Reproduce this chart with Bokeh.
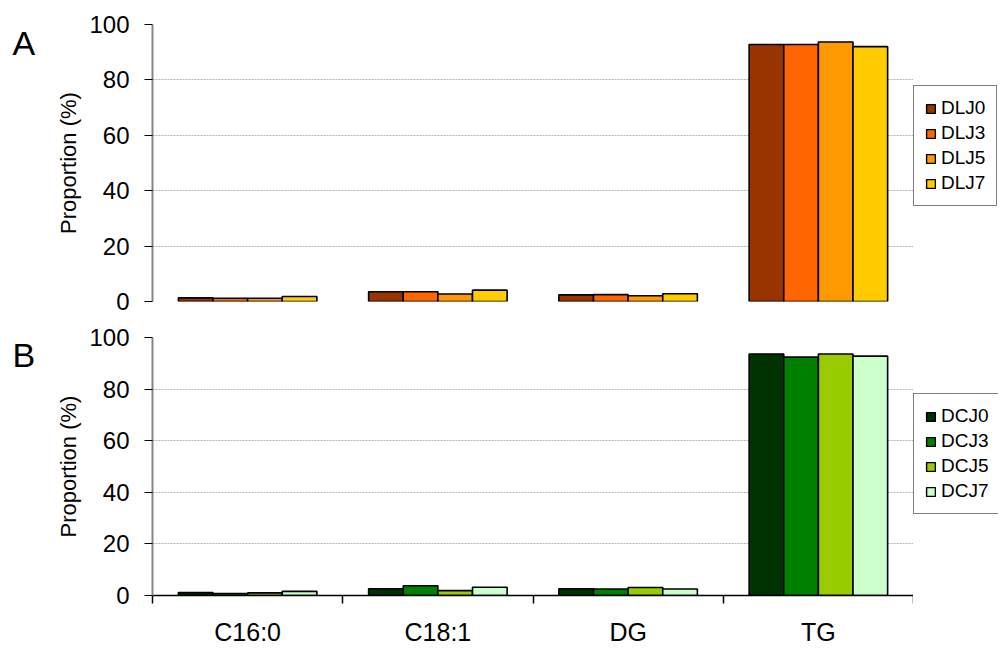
from bokeh.plotting import figure
from bokeh.layouts import column, row
from bokeh.models import (ColumnDataSource, Range1d, FixedTicker, Legend, LegendItem)
from bokeh.transform import dodge
from bokeh.core.properties import value
from bokeh.embed import file_html
from bokeh.resources import INLINE

# ---------------- data ----------------
categories = ["C16:0", "C18:1", "DG", "TG"]

series_a = ["DLJ0", "DLJ3", "DLJ5", "DLJ7"]
dlj0 = [1.3, 3.5, 2.4, 92.8]
dlj3 = [1.2, 3.5, 2.5, 92.8]
dlj5 = [1.2, 2.7, 2.1, 93.7]
dlj7 = [1.8, 4.1, 2.8, 92.0]

series_b = ["DCJ0", "DCJ3", "DCJ5", "DCJ7"]
dcj0 = [1.1, 2.6, 2.6, 93.6]
dcj3 = [0.8, 3.8, 2.5, 92.4]
dcj5 = [1.0, 1.9, 3.1, 93.6]
dcj7 = [1.6, 3.2, 2.5, 92.8]

y_ticks = [0, 20, 40, 60, 80, 100]
panel_letters = ["A", "B"]

colors_a = ["#993300", "#FF6600", "#FF9900", "#FFCC00"]
colors_b = ["#003300", "#008000", "#99CC00", "#CCFFCC"]

FONT = "Liberation Sans"
BAR_W = 0.182
offsets = [-1.5 * BAR_W, -0.5 * BAR_W, 0.5 * BAR_W, 1.5 * BAR_W]
centers = [i + 0.5 for i in range(len(categories))]

LETTER_W = 40
LEGEND_W = 85
MAIN_W = 873


def make_source(names, values):
    return ColumnDataSource(dict(x=centers, **{n: v for n, v in zip(names, values)}))


def make_panel(src, names, colors, height, border_top, border_bottom, show_xaxis):
    p = figure(width=MAIN_W, height=height, x_range=Range1d(0, 4),
               y_range=Range1d(0, 100),
               output_backend="svg", toolbar_location=None,
               min_border_left=152 - LETTER_W, min_border_right=0,
               min_border_top=border_top, min_border_bottom=border_bottom,
               x_axis_location="below" if show_xaxis else None)
    p.outline_line_color = None
    p.background_fill_color = "white"
    p.border_fill_color = "white"

    for n, c, off in zip(names, colors, offsets):
        p.vbar(x=dodge("x", off, range=p.x_range), top=n, width=BAR_W, bottom=0,
               source=src, fill_color=c, line_color="black", line_width=1.6)

    ya = p.yaxis[0]
    ya.ticker = FixedTicker(ticks=y_ticks)
    ya.axis_line_color = "#868686"
    ya.axis_line_width = 2
    ya.major_tick_line_color = "black"
    ya.major_tick_out = 8
    ya.major_tick_in = 0
    ya.minor_tick_line_color = None
    ya.major_label_standoff = 15
    ya.major_label_text_font = FONT
    ya.major_label_text_font_size = "24px"
    ya.major_label_text_color = "black"
    ya.axis_label = "Proportion (%)"
    ya.axis_label_text_font = FONT
    ya.axis_label_text_font_size = "22px"
    ya.axis_label_text_font_style = "normal"
    ya.axis_label_text_color = "black"
    ya.axis_label_standoff = 5

    p.xgrid.visible = False
    p.ygrid.ticker = FixedTicker(ticks=y_ticks)
    p.ygrid.grid_line_color = "#b4b4b4"
    p.ygrid.grid_line_dash = "2 1"
    p.ygrid.grid_line_width = 1

    if show_xaxis:
        xa = p.xaxis[0]
        xa.ticker = FixedTicker(ticks=centers, minor_ticks=[0, 1, 2, 3, 4])
        xa.major_label_overrides = {c: t for c, t in zip(centers, categories)}
        xa.axis_line_color = "black"
        xa.axis_line_width = 1.5
        xa.major_tick_out = 0
        xa.major_tick_in = 0
        xa.major_tick_line_color = None
        xa.minor_tick_out = 8
        xa.minor_tick_in = 0
        xa.minor_tick_line_color = "black"
        xa.minor_tick_line_width = 1.5
        xa.major_label_standoff = 14
        xa.major_label_text_font = FONT
        xa.major_label_text_font_size = "25px"
        xa.major_label_text_color = "black"
    return p


def make_legend(src, names, colors, height, legend_bottom):
    # a frame-only figure that holds just the legend; its bars are zero-sized
    lg = figure(width=LEGEND_W, height=height, x_range=Range1d(0, 4),
                y_range=Range1d(1000, 1100),
                output_backend="svg", toolbar_location=None, min_border=0,
                x_axis_location=None, y_axis_location=None)
    lg.outline_line_color = None
    lg.grid.visible = False
    items = []
    for n, c, off in zip(names, colors, offsets):
        r = lg.vbar(x=dodge("x", off, range=lg.x_range), top=n, bottom=n, width=0,
                    source=src, fill_color=c, line_color="black", line_width=1.4)
        items.append(LegendItem(label=n, renderers=[r]))
    legend = Legend(items=items, location=(0, legend_bottom),
                    border_line_color="black", border_line_width=1,
                    background_fill_color="white", background_fill_alpha=1,
                    padding=11, spacing=3, label_height=20, glyph_height=11,
                    glyph_width=11, label_standoff=5, margin=0,
                    label_text_font=FONT, label_text_font_size="19px",
                    label_text_color="black")
    lg.add_layout(legend, "center")
    return lg


src_a = make_source(series_a, [dlj0, dlj3, dlj5, dlj7])
src_b = make_source(series_b, [dcj0, dcj3, dcj5, dcj7])

p1 = make_panel(src_a, series_a, colors_a, 316, 24, 15, False)
p2 = make_panel(src_b, series_b, colors_b, 332, 21, 44, True)
l1 = make_legend(src_a, series_a, colors_a, 316, 316 - 206)
l2 = make_legend(src_b, series_b, colors_b, 332, 648 - 514)

# narrow strip holding the panel letters (pixel coordinates, y downward)
lf = figure(width=LETTER_W, height=648, x_range=Range1d(0, LETTER_W),
            y_range=Range1d(648, 0), output_backend="svg", toolbar_location=None,
            min_border=0, x_axis_location=None, y_axis_location=None)
lf.outline_line_color = None
lf.grid.visible = False
lf.text(x=[12, 12], y=[42, 354], text=panel_letters, text_font=value(FONT),
        text_font_size="34px", text_color="black", text_baseline="alphabetic",
        text_align="left")

p = row(lf, column(p1, p2, spacing=0), column(l1, l2, spacing=0), spacing=0)

open("out.html", "w").write(file_html(p, INLINE))
